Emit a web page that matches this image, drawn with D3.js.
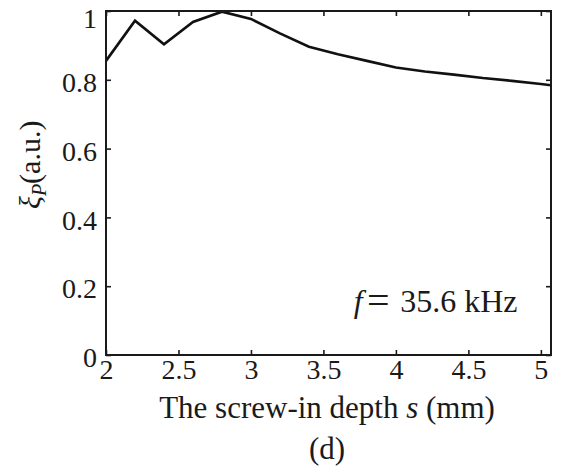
<!DOCTYPE html>
<meta charset="utf-8">
<style>
  html, body { margin: 0; padding: 0; background: #fff; overflow: hidden; }
  svg text { font-family: "Liberation Serif", "Times New Roman", serif !important; fill: #1a1a1a; }
  .frame { fill: none; stroke: #1a1a1a; stroke-width: 2px; }
  .tick line { stroke: #1a1a1a; stroke-width: 1.6px; }
  .line { fill: none; stroke: #111; stroke-width: 2.6px; stroke-linejoin: miter; }
</style>
<body>
<svg></svg>
<script src="https://d3js.org/d3.v7.min.js"></script>
<script>
  // screw-in depth s (mm) and normalised amplitude
  var depth = [2.0, 2.2, 2.4, 2.6, 2.8, 3.0, 3.2, 3.4, 3.6, 3.8, 4.0, 4.2, 4.4, 4.6, 4.8, 5.0, 5.07];
  var xiP   = [0.855, 0.972, 0.903, 0.968, 0.998, 0.977, 0.935, 0.896, 0.874, 0.855, 0.836, 0.824, 0.815, 0.805, 0.797, 0.788, 0.784];
  var xTicks = [2, 2.5, 3, 3.5, 4, 4.5, 5];
  var yTicks = [0, 0.2, 0.4, 0.6, 0.8, 1];

  var serif = '"Liberation Serif", "Times New Roman", serif';

  var margin = {top: 11, right: 10, bottom: 117, left: 106},
      W = 561, H = 472,
      width = W - margin.left - margin.right,
      height = H - margin.top - margin.bottom;

  var svg = d3.select("svg").attr("width", W).attr("height", H);
  var g = svg.append("g").attr("transform", "translate(" + margin.left + "," + margin.top + ")");

  var x = d3.scaleLinear().domain([2, 5.07]).range([0, width]);
  var y = d3.scaleLinear().domain([0, 1]).range([height, 0]);

  var data = depth.map(function(d, i) { return {s: d, v: xiP[i]}; });

  var fmt = function(d) { return d; };

  // bottom axis with labels, ticks pointing inward
  g.append("g").attr("transform", "translate(0," + height + ")")
    .call(d3.axisBottom(x).tickValues(xTicks).tickFormat(fmt).tickSizeInner(-5).tickSizeOuter(0).tickPadding(4))
    .call(function(a) {
      a.attr("font-family", serif);
      a.select(".domain").remove();
      a.selectAll("text").attr("font-size", 28).attr("dy", "0.72em").style("font-family", serif);
    });
  g.append("g")
    .call(d3.axisTop(x).tickValues(xTicks).tickFormat("").tickSizeInner(-5).tickSizeOuter(0))
    .call(function(a) { a.select(".domain").remove(); });

  g.append("g")
    .call(d3.axisLeft(y).tickValues(yTicks).tickFormat(fmt).tickSizeInner(-5).tickSizeOuter(0).tickPadding(9))
    .call(function(a) {
      a.attr("font-family", serif);
      a.select(".domain").remove();
      a.selectAll("text").attr("font-size", 28).style("font-family", serif)
        // the top label sits a little lower so it stays inside the figure
        .attr("dy", function(d) { return d === 1 ? "0.58em" : "0.42em"; });
    });
  g.append("g").attr("transform", "translate(" + width + ",0)")
    .call(d3.axisRight(y).tickValues(yTicks).tickFormat("").tickSizeInner(-5).tickSizeOuter(0))
    .call(function(a) { a.select(".domain").remove(); });

  var line = d3.line()
    .x(function(d) { return x(d.s); })
    .y(function(d) { return y(d.v); });

  g.append("path").datum(data).attr("class", "line").attr("d", line);

  g.append("rect").attr("class", "frame")
    .attr("x", 0).attr("y", 0).attr("width", width).attr("height", height);

  // annotation
  var ann = g.append("text")
    .attr("y", y(0.126))
    .attr("font-size", 32).style("font-family", serif);
  ann.append("tspan").attr("x", x(3.71)).attr("font-style", "italic").text("f");
  ann.append("tspan").attr("x", x(3.8)).attr("font-size", 40).attr("dy", 2).text("=");
  ann.append("tspan").attr("x", x(4.03)).attr("dy", -2).text("35.6 kHz");

  // axis titles
  var xl = svg.append("text")
    .attr("x", margin.left + x(3.525)).attr("y", 418)
    .attr("text-anchor", "middle").attr("font-size", 31).style("font-family", serif);
  xl.append("tspan").text("The screw-in depth ");
  xl.append("tspan").attr("font-style", "italic").text("s");
  xl.append("tspan").text(" (mm)");

  svg.append("text")
    .attr("x", margin.left + x(3.525)).attr("y", 459)
    .attr("text-anchor", "middle").attr("font-size", 31).style("font-family", serif)
    .text("(d)");

  var yl = svg.append("text")
    .attr("transform", "translate(40," + (margin.top + y(0.553)) + ") rotate(-90)")
    .attr("text-anchor", "middle").attr("font-size", 30).style("font-family", serif);
  yl.append("tspan").attr("font-style", "italic").text("ξ");
  yl.append("tspan").attr("font-style", "italic").attr("font-size", 20).attr("dy", 6).text("P");
  yl.append("tspan").attr("dy", -6).text("(a.u.)");
</script>
</body>
